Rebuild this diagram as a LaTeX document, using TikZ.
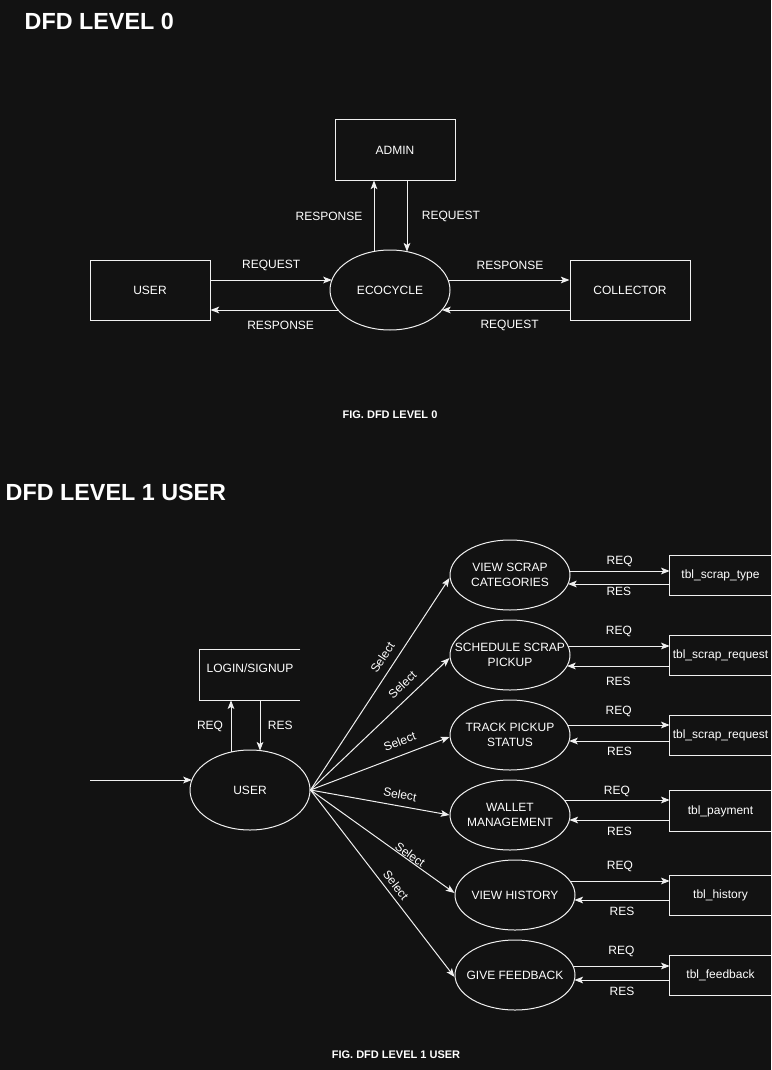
\documentclass[tikz,border=0pt]{standalone}
\usepackage{fontspec}
\setmainfont{Liberation Sans}
\usetikzlibrary{shapes.geometric,arrows.meta,calc}
\definecolor{bg}{HTML}{121212}
\definecolor{fg}{HTML}{F0F0F0}
\begin{document}
\begin{tikzpicture}[x=0.75pt,y=-0.75pt,
  every node/.style={text=white, font=\fontsize{9}{11}\selectfont},
  ent/.style={draw=fg, line width=0.75pt, minimum width=90pt, minimum height=45pt, inner sep=0pt},
  bigproc/.style={ellipse, draw=fg, line width=0.75pt, minimum width=90pt, minimum height=60pt, inner sep=0pt},
  proc/.style={ellipse, draw=fg, line width=0.75pt, minimum width=90pt, minimum height=52.5pt, inner sep=0pt,
    label={[align=center, inner sep=0pt]center:#1}},
  store/.style={minimum width=75.75pt, minimum height=30pt, inner sep=0pt},
  openline/.style={draw=fg, line width=0.75pt},
  flow/.style={draw=fg, line width=0.75pt, -{Stealth[length=6.5pt,width=5pt,inset=1.5pt]}},
  sel/.style={sloped},
  title/.style={font=\fontsize{17.5}{20}\selectfont\bfseries, anchor=west},
  caption/.style={font=\fontsize{8.25}{10}\selectfont\bfseries}
]
\fill[bg] (0,0) rectangle (771,1070);
\useasboundingbox (0,0) rectangle (771,1070);

% ---------- Level 0 ----------
\node[title] (t0) at (20,21) {DFD LEVEL 0};
\node[ent] (admin) at (395,150) {ADMIN};
\node[ent] (user0) at (150,290) {USER};
\node[bigproc] (eco) at (390,290) {ECOCYCLE};
\node[ent] (coll) at (630,290) {COLLECTOR};

\draw[flow] ($(user0.east)+(0,-10)$) -- node[pos=0.5, yshift=11.25pt]{REQUEST} ($(eco.center)+(-58.1,-10)$);
\draw[flow] ($(eco.center)+(-52,20)$) -- node[pos=0.45, yshift=-11.25pt]{RESPONSE} ($(user0.east)+(0,20)$);
\draw[flow] ($(eco.center)+(58.1,-10)$) -- node[pos=0.51, yshift=11.25pt]{RESPONSE} ($(coll.west)+(0,-10)$);
\draw[flow] ($(coll.west)+(0,20)$) -- node[pos=0.47, yshift=-11.25pt]{REQUEST} ($(eco.center)+(52,20)$);
\draw[flow] ($(eco.center)+(-16,-38.5)$) -- node[midway, left=5pt]{RESPONSE} ($(admin.south)+(-21,0)$);
\draw[flow] ($(admin.south)+(12,0)$) -- node[midway, right=7.5pt]{REQUEST} ($(eco.center)+(17,-38.4)$);

\node[caption] (cap0) at (390,415) {FIG. DFD LEVEL 0};

% ---------- Level 1 ----------
\node[title] (t1) at (1,492) {DFD LEVEL 1 USER};

\node[bigproc] (u1) at (250,790) {USER};
\coordinate (in) at (90,780);
\draw[flow] (in) -- ($(u1.center)+(-58.1,-10)$);

\node[store, minimum width=75pt, minimum height=37.5pt] (login) at (250,675) {};
\node (logintxt) at (250,668) {LOGIN/SIGNUP};
\draw[flow] ($(u1.center)+(-19,-37.9)$) -- node[midway, left=2.25pt]{REQ} ($(login.south)+(-19,0)$);
\draw[flow] ($(login.south)+(10,0)$) -- node[midway, right=2.25pt]{RES} ($(u1.center)+(10,-39.4)$);

\node[proc={VIEW SCRAP\\CATEGORIES}] (p1) at (510,575) {};
\node[proc={SCHEDULE SCRAP\\PICKUP}] (p2) at (510,655) {};
\node[proc={TRACK PICKUP\\STATUS}] (p3) at (510,735) {};
\node[proc={WALLET\\MANAGEMENT}] (p4) at (510,815) {};
\node[proc={VIEW HISTORY}] (p5) at (515,895) {};
\node[proc={GIVE FEEDBACK}] (p6) at (515,975) {};

\node[store] (s1) at (720.5,575.5) {tbl\_scrap\_type};
\node[store] (s2) at (720.5,655.5) {tbl\_scrap\_request};
\node[store] (s3) at (720.5,735.5) {tbl\_scrap\_request};
\node[store] (s4) at (720.5,811) {tbl\_payment};
\node[store] (s5) at (720.5,895.5) {tbl\_history};
\node[store] (s6) at (720.5,975.5) {tbl\_feedback};

\foreach \n in {login,s1,s2,s3,s4,s5,s6}
  \draw[openline] (\n.north east) -- (\n.north west) -- (\n.south west) -- (\n.south east);

% select flows
\draw[flow] (u1.east) -- node[sel, pos=0.592, above=2.3pt]{Select} ($(p1.west)+(0,3)$);
\draw[flow] (u1.east) -- node[sel, pos=0.726, above=2.9pt]{Select} ($(p2.west)+(0,3)$);
\draw[flow] (u1.east) -- node[sel, pos=0.676, above=3.2pt]{Select} ($(p3.west)+(0,2)$);
\draw[flow] (u1.east) -- node[sel, pos=0.629, above=1.6pt]{Select} (p4.west);
\draw[flow] (u1.east) -- node[sel, pos=0.67, above=-2.9pt]{Select} ($(p5.west)+(0,-2)$);
\draw[flow] (u1.east) -- node[sel, pos=0.54, above=0.2pt]{Select} ($(p6.west)+(0,2)$);

% REQ / RES with data stores
\draw[flow] ($(p1.center)+(59.6,-4)$) -- node[midway, yshift=7.5pt]{REQ} ($(s1.west)+(0,-4.5)$);
\draw[flow] ($(s1.west)+(0,8.5)$) -- node[midway, yshift=-5.5pt]{RES} ($(p1.center)+(58,9)$);

\draw[flow] ($(p2.center)+(58,-9)$) -- node[midway, yshift=11.25pt]{REQ} ($(s2.west)+(0,-9.5)$);
\draw[flow] ($(s2.west)+(0,10.5)$) -- node[midway, yshift=-11.25pt]{RES} ($(p2.center)+(57,11)$);

\draw[flow] ($(p3.center)+(57.5,-10)$) -- node[midway, yshift=10.5pt]{REQ} ($(s3.west)+(0,-10.5)$);
\draw[flow] ($(s3.west)+(0,5.5)$) -- node[midway, yshift=-7.5pt]{RES} ($(p3.center)+(59.1,6)$);

\draw[flow] ($(p4.center)+(54.2,-15)$) -- node[midway, yshift=6.75pt]{REQ} ($(s4.west)+(0,-11)$);
\draw[flow] ($(s4.west)+(0,9)$) -- node[midway, yshift=-8.25pt]{RES} ($(p4.center)+(59.4,5)$);

\draw[flow] ($(p5.center)+(55,-14)$) -- node[midway, yshift=11.25pt]{REQ} ($(s5.west)+(0,-14.5)$);
\draw[flow] ($(s5.west)+(0,4.5)$) -- node[midway, yshift=-8.25pt]{RES} ($(p5.center)+(59.4,5)$);

\draw[flow] ($(p6.center)+(58,-9)$) -- node[midway, yshift=11.25pt]{REQ} ($(s6.west)+(0,-9.5)$);
\draw[flow] ($(s6.west)+(0,4.5)$) -- node[midway, yshift=-8.25pt]{RES} ($(p6.center)+(59.4,5)$);

\node[caption] (cap1) at (396,1055) {FIG. DFD LEVEL 1 USER};
\end{tikzpicture}
\end{document}
